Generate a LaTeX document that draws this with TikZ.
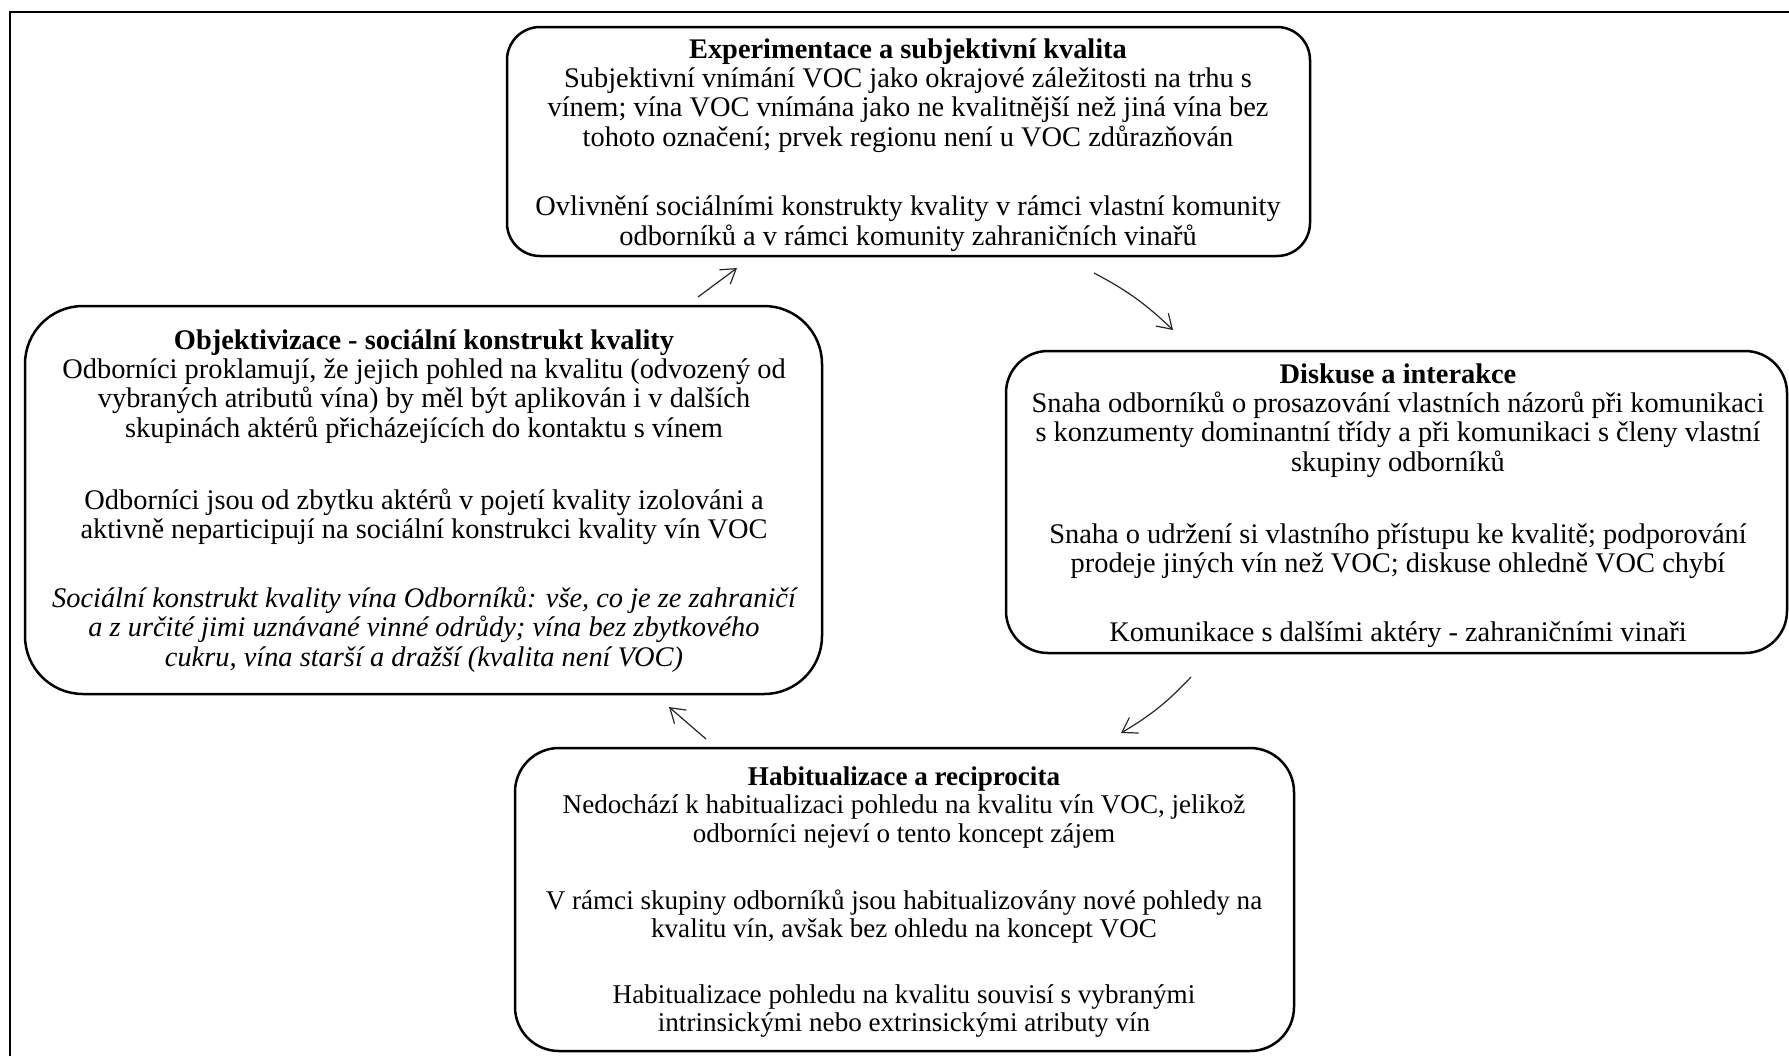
\documentclass[tikz,border=0pt]{standalone}
\usepackage{fontspec}
\setmainfont{Liberation Serif}
\usetikzlibrary{arrows.meta,bending}
\newcommand{\bodyfont}{\fontsize{14.2pt}{14.6pt}\selectfont}
\newcommand{\smallbodyfont}{\fontsize{13.55pt}{14.1pt}\selectfont}
\begin{document}
\begin{tikzpicture}[x=0.5pt,y=-0.5pt,
  panel/.style={draw, line width=1.25pt, rectangle, inner sep=0pt},
  txt/.style={align=center, font=\bodyfont, inner sep=0pt, anchor=base},
  smalltxt/.style={txt, font=\smallbodyfont},
  flow/.style={draw=black!85, line width=0.6pt, -{Straight Barb[length=7pt,width=9pt]}}]
\useasboundingbox (0,0) rectangle (1789,1056);

% partial outer frame
\draw[line width=1pt] (10,1056) -- (10,12) -- (1789,12);

% panels
\node[panel, rounded corners=16.5pt, minimum width=401.5pt, minimum height=114.5pt] (exp) at (908.5,141.5) {};
\node[panel, rounded corners=29pt, minimum width=398.5pt, minimum height=194pt] (obj) at (423.5,500) {};
\node[panel, rounded corners=21pt, minimum width=390.5pt, minimum height=151pt] (dis) at (1396.5,502) {};
\node[panel, rounded corners=22pt, minimum width=389.5pt, minimum height=151.5pt] (hab) at (904.5,899.5) {};

% text blocks are placed by the baseline of their last line
% Experimentace
\node[txt] (expA) at (908,146) {\textbf{Experimentace a subjektivní kvalita}\\
Subjektivní vnímání VOC jako okrajové záležitosti na trhu s\\
vínem; vína VOC vnímána jako ne kvalitnější než jiná vína bez\\
tohoto označení; prvek regionu není u VOC zdůrazňován};
\node[txt] (expB) at (908,245) {Ovlivnění sociálními konstrukty kvality v rámci vlastní komunity\\
odborníků a v rámci komunity zahraničních vinařů};

% Objektivizace
\node[txt] (objA) at (424,437) {\textbf{Objektivizace - sociální konstrukt kvality}\\
Odborníci proklamují, že jejich pohled na kvalitu (odvozený od\\
vybraných atributů vína) by měl být aplikován i v dalších\\
skupinách aktérů přicházejících do kontaktu s vínem};
\node[txt] (objB) at (424,538.5) {Odborníci jsou od zbytku aktérů v pojetí kvality izolováni a\\
aktivně neparticipují na sociální konstrukci kvality vín VOC};
\node[txt, font=\bodyfont\itshape] (objC) at (424,666) {Sociální konstrukt kvality vína Odborníků: vše, co je ze zahraničí\\
a z určité jimi uznávané vinné odrůdy; vína bez zbytkového\\
cukru, vína starší a dražší (kvalita není VOC)};

% Diskuse
\node[txt] (disA) at (1398,471) {\textbf{Diskuse a interakce}\\
Snaha odborníků o prosazování vlastních názorů při komunikaci\\
s konzumenty dominantní třídy a při komunikaci s členy vlastní\\
skupiny odborníků};
\node[txt] (disB) at (1398,572.5) {Snaha o udržení si vlastního přístupu ke kvalitě; podporování\\
prodeje jiných vín než VOC; diskuse ohledně VOC chybí};
\node[txt] (disC) at (1398,641.5) {Komunikace s dalšími aktéry - zahraničními vinaři};

% Habitualizace
\node[smalltxt] (habA) at (904,842) {\textbf{Habitualizace a reciprocita}\\
Nedochází k habitualizaci pohledu na kvalitu vín VOC, jelikož\\
odborníci nejeví o tento koncept zájem};
\node[smalltxt] (habB) at (904,937.5) {V rámci skupiny odborníků jsou habitualizovány nové pohledy na\\
kvalitu vín, avšak bez ohledu na koncept VOC};
\node[smalltxt] (habC) at (904,1031.5) {Habitualizace pohledu na kvalitu souvisí s vybranými\\
intrinsickými nebo extrinsickými atributy vín};

% cycle arrows
\coordinate (a1s) at (698,297);  \coordinate (a1e) at (737,268);
\coordinate (a2s) at (1094,273); \coordinate (a2e) at (1173,330);
\coordinate (a3s) at (1191,677); \coordinate (a3e) at (1121,733);
\coordinate (a4s) at (706,739);  \coordinate (a4e) at (669,707);
\draw[flow] (a1s) -- (a1e);
\draw[flow] (a2s) to[bend left=8] (a2e);
\draw[flow] (a3s) to[bend left=8] (a3e);
\draw[flow] (a4s) -- (a4e);
\end{tikzpicture}
\end{document}
